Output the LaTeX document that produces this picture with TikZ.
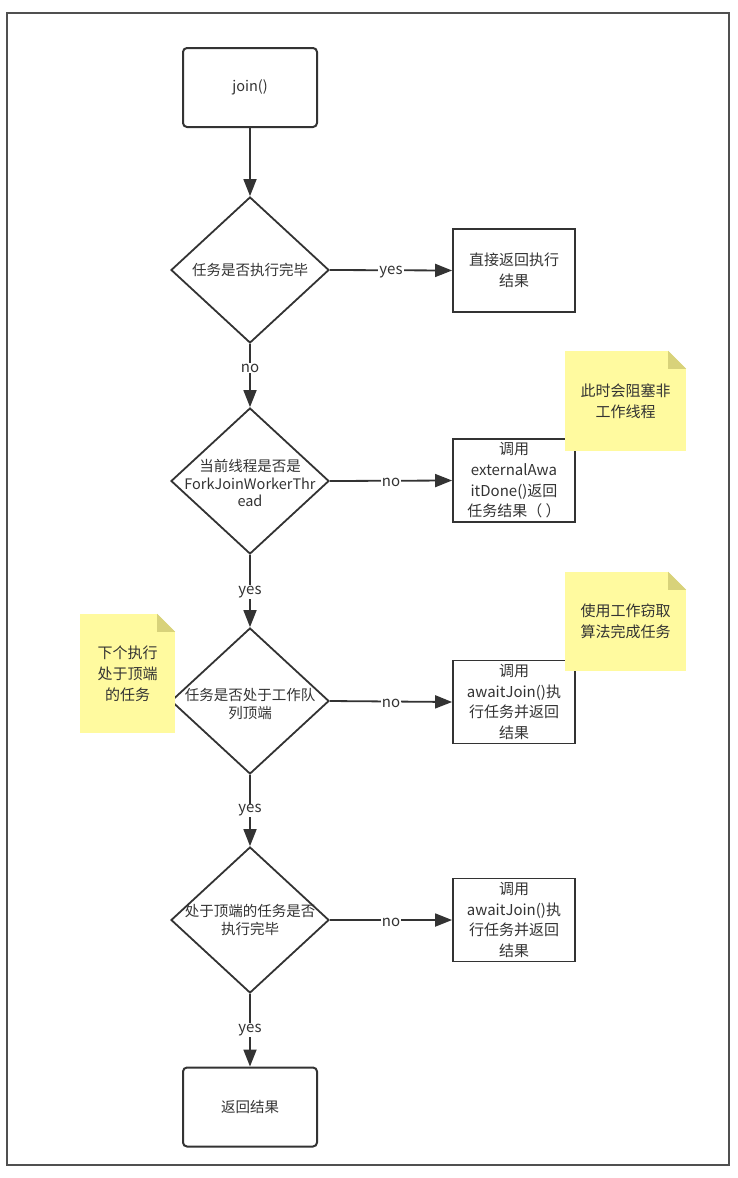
\documentclass[tikz,border=0pt]{standalone}
\usepackage{fontspec}
\setmainfont{Noto Sans CJK SC}
\usetikzlibrary{shapes.geometric,arrows.meta}
\definecolor{ln}{HTML}{333333}
\definecolor{tx}{HTML}{333333}
\definecolor{fr}{HTML}{505050}
\definecolor{notey}{HTML}{FFFA9F}
\definecolor{foldy}{HTML}{D8D27A}
\begin{document}
\begin{tikzpicture}[x=1pt,y=-1pt,
 every node/.style={text=tx, font=\fontsize{14.5}{20}\selectfont},
 rbox/.style={draw=ln, line width=2pt, rounded corners=4pt, minimum width=134pt, minimum height=79pt, inner sep=0pt},
 pbox/.style={draw=ln, line width=1.8pt, minimum width=122pt, minimum height=83pt, inner sep=0pt, align=center, font=\fontsize{15}{20.7}\selectfont},
 dec/.style={diamond, draw=ln, line width=1.8pt, minimum width=158pt, minimum height=146pt, inner sep=0pt},
 dtext/.style={align=center, font=\fontsize{14.5}{17.5}\selectfont, inner sep=0pt},
 note/.style={fill=notey, inner sep=0pt, align=center, font=\fontsize{15}{21}\selectfont},
 arr/.style={draw=ln, line width=1.8pt, -{Triangle[length=17pt,width=13pt]}},
 lbl/.style={fill=white, inner sep=1pt, font=\fontsize{15}{16}\selectfont},
 hlbl/.style={lbl, yshift=-2pt}
]
\useasboundingbox (0,0) rectangle (737,1178);
\draw[fr, line width=2pt] (7,13) rectangle (729,1165);

\node[rbox] (start) at (250,87.5) {join()};
\node[dec] (d1) at (250,270) {};
\node[dtext] (t1) at (d1.center) {任务是否执行完毕};
\node[pbox] (b1) at (514,270.5) {直接返回执行\\结果};

\node[dec] (d2) at (250,481) {};
\node[dtext] (t2) at ([yshift=-2pt]d2.center) {当前线程是否是\\ForkJoinWorkerThr\\ead};
\node[pbox] (b2) at (514,480.5) {调用\\externalAwa\\itDone()返回\\任务结果（ ）};

\node[dec] (d3) at (250,701) {};
\node[dtext] (t3) at ([yshift=-3pt]d3.center) {任务是否处于工作队\\列顶端};
\node[pbox] (b3) at (514,702) {调用\\awaitJoin()执\\行任务并返回\\结果};

\node[dec] (d4) at (250,920) {};
\node[dtext] (t4) at (d4.center) {处于顶端的任务是否\\执行完毕};
\node[pbox] (b4) at (514,920) {调用\\awaitJoin()执\\行任务并返回\\结果};

\node[rbox] (end) at (250,1107) {返回结果};

\draw[arr] (start.south) -- (d1.north);
\draw[arr] (d1.east) -- node[hlbl] (l1) {yes} (b1.west);
\draw[arr] (d1.south) -- node[lbl, pos=0.38] (l2) {no} (d2.north);
\draw[arr] (d2.east) -- node[hlbl] (l3) {no} (b2.west);
\draw[arr] (d2.south) -- node[lbl, pos=0.51] (l4) {yes} (d3.north);
\draw[arr] (d3.east) -- node[hlbl] (l5) {no} (b3.west);
\draw[arr] (d3.south) -- node[lbl] (l6) {yes} (d4.north);
\draw[arr] (d4.east) -- node[hlbl] (l7) {no} (b4.west);
\draw[arr] (d4.south) -- node[lbl] (l8) {yes} (end.north);

\node[note, minimum width=121pt, minimum height=100pt] (n1) at (625.5,401) {此时会阻塞非\\工作线程};
\node[note, minimum width=121pt, minimum height=99pt] (n2) at (625.5,621.5) {使用工作窃取\\算法完成任务};
\node[note, minimum width=95pt, minimum height=119pt] (n3) at (127.5,673.5) {下个执行\\处于顶端\\的任务};
\foreach \n in {n1,n2,n3}{
  \fill[white] ([xshift=-18pt]\n.north east) -- (\n.north east) -- ([yshift=-18pt]\n.north east) -- cycle;
  \fill[foldy] ([xshift=-18pt]\n.north east) -- ([xshift=-18pt,yshift=-18pt]\n.north east) -- ([yshift=-18pt]\n.north east) -- cycle;
}
\end{tikzpicture}
\end{document}
